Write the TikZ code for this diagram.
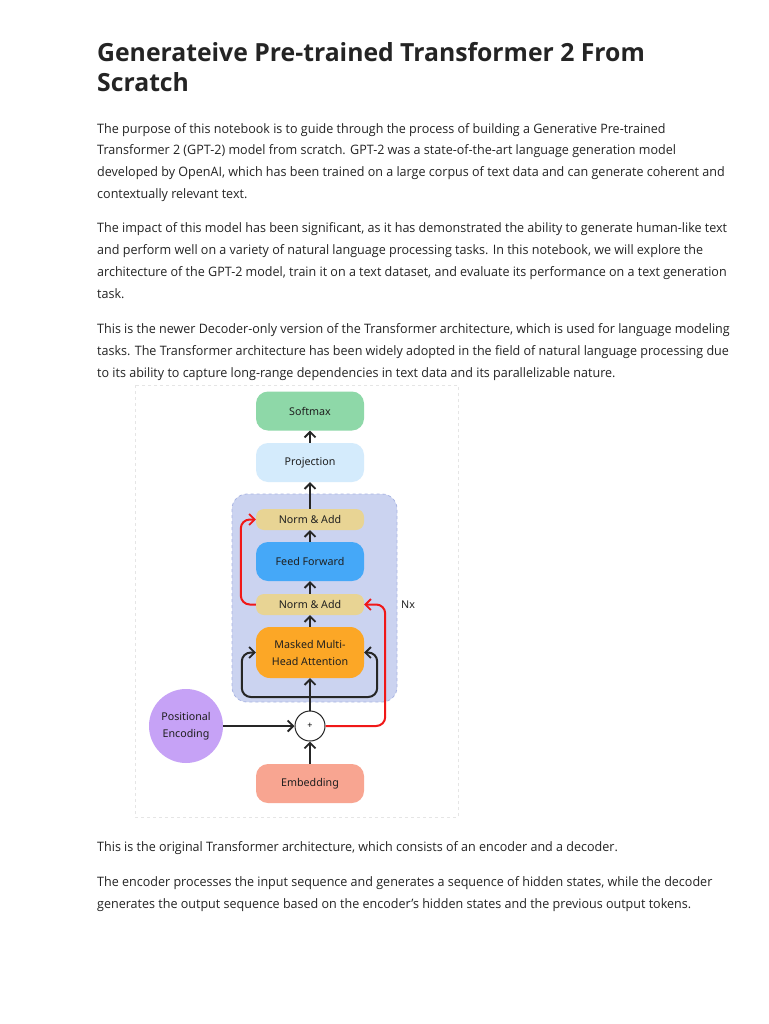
\documentclass[tikz,border=0pt]{standalone}
\usepackage{fontspec}
\usepackage{graphicx}
\setmainfont{Open Sans}
\newfontfamily\dfont{Noto Sans}
\usetikzlibrary{arrows.meta,calc}
\newcommand\sqz[1]{\scalebox{0.965}[1]{#1}}
\newcommand\sqt[1]{\scalebox{0.99}[1]{#1}}
\definecolor{txt}{HTML}{242424}
\definecolor{cSoft}{HTML}{8ED8A8}
\definecolor{cProj}{HTML}{D4EBFC}
\definecolor{cNorm}{HTML}{E8D494}
\definecolor{cFF}{HTML}{45A8F8}
\definecolor{cMHA}{HTML}{FCA726}
\definecolor{cEmb}{HTML}{F8A591}
\definecolor{cPE}{HTML}{C6A2F6}
\definecolor{cReg}{HTML}{CBD3F0}
\definecolor{cRegB}{HTML}{A9B5E3}
\definecolor{cRed}{HTML}{F01818}
\tikzset{
  line/.style={anchor=base west, inner sep=0pt, text=txt, font=\fontsize{13}{16}\selectfont},
  ttl/.style={anchor=base west, inner sep=0pt, text=txt, font=\fontsize{25}{30}\selectfont\bfseries},
  blk/.style={rounded corners=12pt, minimum width=108pt, minimum height=39pt, inner sep=0pt, text=black!88, font=\dfont\fontsize{10.7}{14}\selectfont, align=center},
  nrm/.style={blk, fill=cNorm, rounded corners=8pt, minimum height=21pt},
  arr/.style={draw=black!85, line width=2pt, -{Straight Barb[length=5.5pt,width=11pt,line width=1.8pt]}},
  rarr/.style={draw=cRed, line width=2pt, -{Straight Barb[length=5.5pt,width=11pt,line width=1.8pt]}},
}
\begin{document}
\begin{tikzpicture}[x=1pt,y=-1pt]
\useasboundingbox (0,0) rectangle (768,1024);
\fill[white] (0,0) rectangle (768,1024);
% title
\node[ttl] (t1) at (97,62) {\sqt{Generateive Pre-trained Transformer 2 From}};
\node[ttl] (t2) at (97,92) {\sqt{Scratch}};
% paragraph 1
\node[line] (p11) at (97,133.5) {\sqz{The purpose of this notebook is to guide through the process of building a Generative Pre-trained}};
\node[line] (p12) at (97,155) {\sqz{Transformer 2 (GPT-2) model from scratch. GPT-2 was a state-of-the-art language generation model}};
\node[line] (p13) at (97,177) {\sqz{developed by OpenAI, which has been trained on a large corpus of text data and can generate coherent and}};
\node[line] (p14) at (97,198.5) {\sqz{contextually relevant text.}};
% paragraph 2
\node[line] (p21) at (97,232.5) {\sqz{The impact of this model has been significant, as it has demonstrated the ability to generate human-like text}};
\node[line] (p22) at (97,254.5) {\sqz{and perform well on a variety of natural language processing tasks. In this notebook, we will explore the}};
\node[line] (p23) at (97,276.5) {\sqz{architecture of the GPT-2 model, train it on a text dataset, and evaluate its performance on a text generation}};
\node[line] (p24) at (97,298) {\sqz{task.}};
% paragraph 3
\node[line] (p31) at (97,333.5) {\sqz{This is the newer Decoder-only version of the Transformer architecture, which is used for language modeling}};
\node[line] (p32) at (97,355.5) {\sqz{tasks. The Transformer architecture has been widely adopted in the field of natural language processing due}};
\node[line] (p33) at (97,377.5) {\sqz{to its ability to capture long-range dependencies in text data and its parallelizable nature.}};
% paragraph 4,5
\node[line] (p41) at (97,851.5) {\sqz{This is the original Transformer architecture, which consists of an encoder and a decoder.}};
\node[line] (p51) at (97,886.5) {\sqz{The encoder processes the input sequence and generates a sequence of hidden states, while the decoder}};
\node[line] (p52) at (97,908.5) {\sqz{generates the output sequence based on the encoder's hidden states and the previous output tokens.}};
% diagram frame
\draw[black!10, dashed, line width=0.6pt] (135,385) rectangle (458,817);
\draw[cRegB, fill=cReg, dashed, line width=0.8pt, rounded corners=15pt] (232,494) rectangle (397,702);
% blocks
\node[blk, fill=cSoft] (soft) at (310,411) {Softmax};
\node[blk, fill=cProj] (proj) at (310,462.5) {Projection};
\node[nrm] (ntop) at (310,519.5) {Norm \& Add};
\node[blk, fill=cFF] (ff) at (310,561.5) {Feed Forward};
\node[nrm] (nbot) at (310,604.5) {Norm \& Add};
\node[blk, fill=cMHA, minimum height=51pt, rounded corners=14pt, font=\dfont\fontsize{10.7}{17}\selectfont] (mha) at (310,652.5) {Masked Multi-\\Head Attention};
\node[circle, draw=black!85, line width=1pt, fill=white, minimum size=30pt, inner sep=0pt, font=\dfont\fontsize{9}{9}\selectfont] (plus) at (310,726) {+};
\node[circle, fill=cPE, minimum size=74pt, inner sep=0pt, align=center, text=black!88, font=\dfont\fontsize{10.7}{17}\selectfont] (pe) at (186,726) {Positional\\Encoding};
\node[blk, fill=cEmb] (emb) at (310,783.5) {Embedding};
\node[anchor=west, inner sep=0pt, text=black!85, font=\dfont\fontsize{10.7}{12}\selectfont] (nx) at (401,605) {Nx};
% connectors
\draw[arr] (proj.north) -- (soft.south);
\draw[arr] (ntop.north) -- (proj.south);
\draw[arr] (ff.north) -- (ntop.south);
\draw[arr] (nbot.north) -- (ff.south);
\draw[arr] (mha.north) -- (nbot.south);
\draw[arr] (plus.north) -- (mha.south);
\draw[arr] (emb.north) -- (plus.south);
\draw[arr] (pe.east) -- (plus.west);
\coordinate (j) at (310,697);
\draw[arr, rounded corners=9pt] (j) -| ([xshift=-14pt]mha.west) -- (mha.west);
\draw[arr, rounded corners=9pt] (j) -| ([xshift=13pt]mha.east) -- (mha.east);
\draw[rarr, rounded corners=9pt] (plus.east) -| ([xshift=21pt]nbot.east) -- (nbot.east);
\draw[rarr, rounded corners=9pt] (nbot.west) -- ([xshift=-15pt]nbot.west) |- (ntop.west);
\end{tikzpicture}
\end{document}
